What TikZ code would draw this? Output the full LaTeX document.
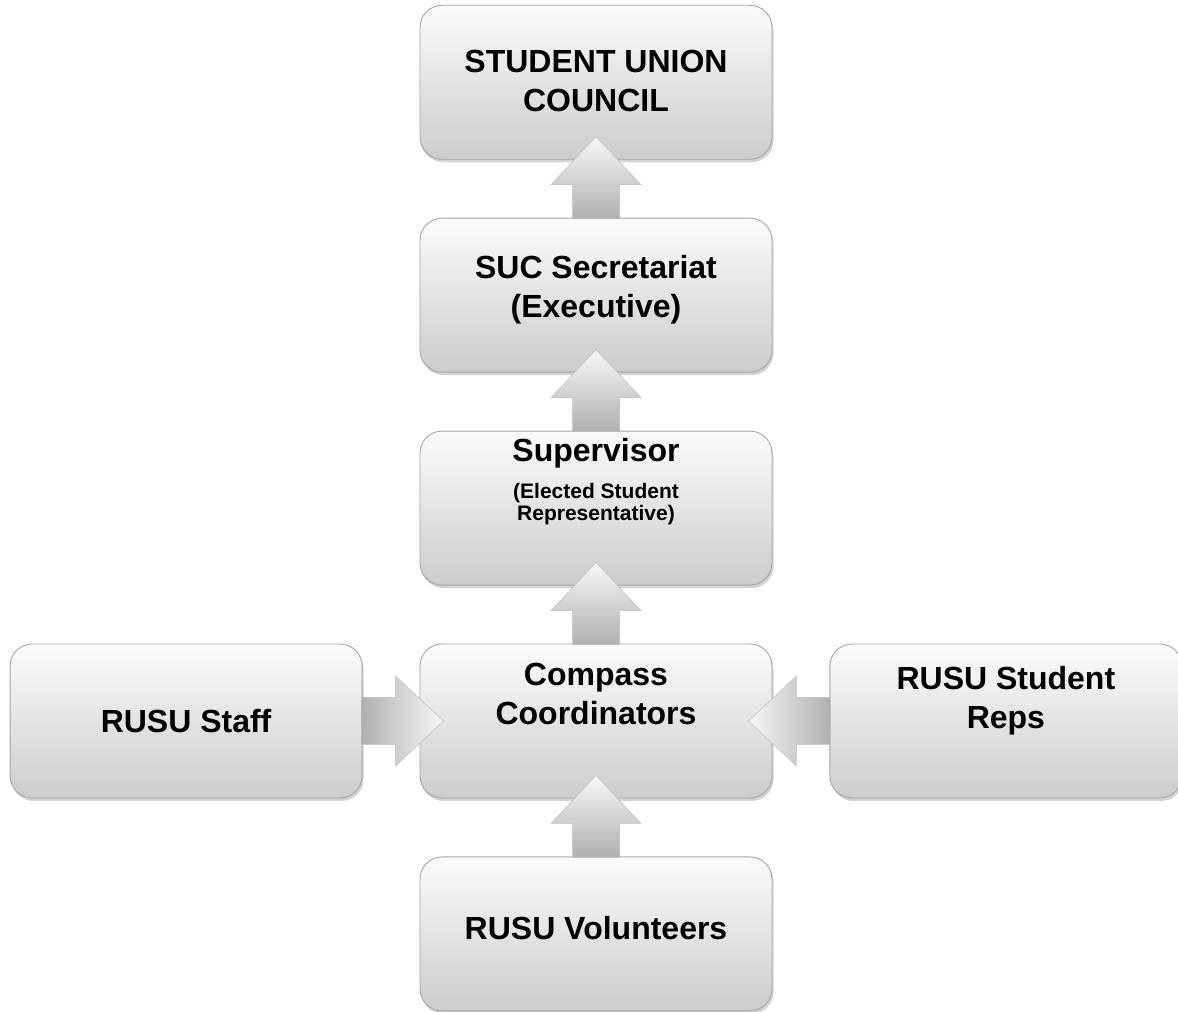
\documentclass[tikz,border=0pt]{standalone}
\usepackage{fontspec}
\setmainfont{Liberation Sans}
\usetikzlibrary{positioning}
\usetikzlibrary{shadows}

\newcommand{\subline}{\fontsize{21}{22}\selectfont}

\tikzset{
  box/.style={rectangle, rounded corners=22pt, draw=gray!70, line width=0.9pt,
    top color=gray!3, bottom color=gray!40, minimum width=352pt, minimum height=154pt,
    align=center, font=\fontsize{32}{39}\selectfont\bfseries,
    drop shadow={opacity=0.35, shadow xshift=1.5pt, shadow yshift=-3pt}},
  arrowbody/.style={draw=gray!50, line width=0.5pt,
    top color=gray!6, bottom color=gray!62, shading angle=#1}
}

% block arrow from a node anchor, #2 = direction, #3 = shading angle
\newcommand{\flowarrow}[3]{%
  \draw[arrowbody=#3, shift={(#1)}, rotate=#2]
    (-1,-23.5) -- (33,-23.5) -- (33,-45) -- (81,0) -- (33,45) -- (33,23.5) -- (-1,23.5) -- cycle;}

\begin{document}
\begin{tikzpicture}[x=1pt, y=1pt]
  \useasboundingbox (0,0) rectangle (1178,1012);

  \node[box, text depth=54pt] (compass) at (596,291) {Compass\\Coordinators};
  \node[box, text depth=58pt] (super) [above=58pt of compass]
    {Supervisor\\[-2pt]{\subline(Elected Student}\\[-17pt]{\subline Representative)}};
  \node[box, text depth=18pt] (suc) [above=58pt of super] {SUC Secretariat\\(Executive)};
  \node[box, text depth=2pt] (council) [above=58pt of suc] {STUDENT UNION\\COUNCIL};
  \node[box, text depth=11pt] (volunteers) [below=58pt of compass] {RUSU Volunteers};
  \node[box] (staff) [left=57pt of compass] {RUSU Staff};
  \node[box, text depth=48pt] (reps) [right=57pt of compass] {RUSU Student\\Reps};

  \flowarrow{suc.north}{90}{0}
  \flowarrow{super.north}{90}{0}
  \flowarrow{compass.north}{90}{0}
  \flowarrow{volunteers.north}{90}{0}
  \flowarrow{staff.east}{0}{-90}
  \flowarrow{reps.west}{180}{90}
\end{tikzpicture}
\end{document}
